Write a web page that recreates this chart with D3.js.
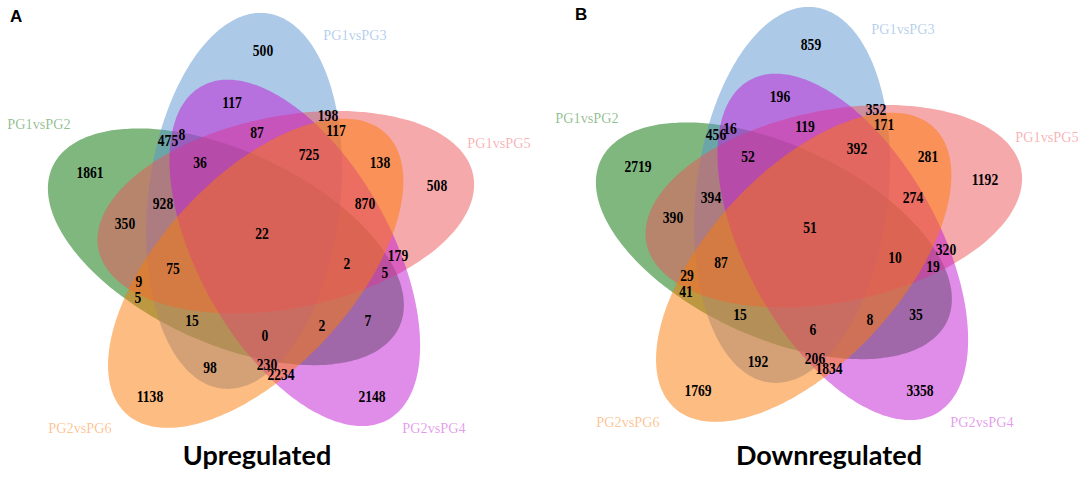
<!DOCTYPE html>
<html><head><meta charset="utf-8">
<script src="https://cdn.jsdelivr.net/npm/d3@7"></script>
<style>html,body{margin:0;padding:0;background:#fff}svg{display:block}</style>
</head><body>
<svg id="chart" width="1084" height="487"></svg>
<script>
// ---------- data ----------
const setNames = ["PG1vsPG2","PG1vsPG3","PG1vsPG5","PG2vsPG4","PG2vsPG6"];
const setKeys = ["G","B","P","M","O"];
const panelLetters = ["A","B"];
const panelTitles = ["Upregulated","Downregulated"];
const regionKeys = ["G","B","P","M","O","GB","GP","GO","GM","BM","BP","BO","PM","PO","MO",
  "GBM","GBP","GBO","GPM","GPO","GMO","BMP","BMO","BPO","PMO","GBMP","GBPO","GBMO","GPMO","BMPO","GBMPO"];
const upregulated = [1861,500,508,2148,1138,475,350,5,7,117,198,98,179,138,2234,
  8,928,15,5,9,2,87,230,117,870,36,75,0,2,725,22];
const downregulated = [2719,859,1192,3358,1769,456,390,41,35,196,352,192,320,281,1834,
  16,394,15,19,29,8,119,206,171,274,52,87,6,10,392,51];

// ---------- layout / style (diagram units = panel-A pixels) ----------
const setColors = ["#007000","#5a93d2","#ee5458","#c21ad4","#fc7a05"];
const ellCx = [225.9, 244.1, 285.8, 294.8, 255.7];
const ellCy = [246.8, 200.9, 212.2, 252.9, 273.3];
const ellA  = [191, 189, 191, 191, 191];
const ellB  = [96, 96, 96, 96, 96];
const ellRot = [204.8, -83.2, -11.2, 60.8, 132.8];
const labelPos = [[90,172],[263,50],[437,185],[372,396],[150,396],[168,140],[125,223],[138,297],
  [368,320],[232,102],[328,115],[210,367],[398,255],[380,162],[281,374],[182,134],[163,203],
  [192,320],[385,272],[139,281],[322,325],[257,132],[267,364],[336,130],[365,203],[200,162],
  [173,268],[265,335],[347,263],[309,154],[262,233]];
const setLabelPos = [[39,124],[355,35],[499,143],[434,428],[80,428]];
const panelOffset = [[0,0],[548,-6]];
const letterPos = [[10,16],[575,14]];
const titlePos = [[257,456],[829,456]];
const values = [upregulated, downregulated];

const svg = d3.select("#chart");
const rad = Math.PI/180;

function ellipsePoints(i){
  const th = ellRot[i]*rad;
  return d3.range(0, 360, 2).map(t => {
    const c = Math.cos(t*rad), s = Math.sin(t*rad);
    return [ellCx[i] + ellA[i]*c*Math.cos(th) - ellB[i]*s*Math.sin(th),
            ellCy[i] + ellA[i]*c*Math.sin(th) + ellB[i]*s*Math.cos(th)];
  });
}

panelLetters.forEach((letter, p) => {
  const [ox, oy] = panelOffset[p];
  const sx = d3.scaleLinear().domain([0,540]).range([ox, ox+540]);
  const sy = d3.scaleLinear().domain([0,487]).range([oy, oy+487]);
  const g = svg.append("g");
  const line = d3.line().x(d => sx(d[0])).y(d => sy(d[1])).curve(d3.curveCardinalClosed);
  setKeys.forEach((k, i) => {
    g.append("path").attr("d", line(ellipsePoints(i)))
      .attr("fill", setColors[i]).attr("fill-opacity", 0.5).attr("stroke", "none");
  });
  setNames.forEach((name, i) => {
    g.append("text").attr("transform", `translate(${sx(setLabelPos[i][0])},${sy(setLabelPos[i][1])}) scale(0.95,1)`)
      .attr("text-anchor","middle").attr("dy","0.35em")
      .attr("font-family","'Liberation Serif','Times New Roman',serif").attr("font-size",15)
      .attr("fill", setColors[i]).attr("fill-opacity",0.45).text(name);
  });
  values[p].forEach((v, r) => {
    g.append("text").attr("transform", `translate(${sx(labelPos[r][0])},${sy(labelPos[r][1])}) scale(0.85,1)`)
      .attr("text-anchor","middle").attr("dy","0.36em")
      .attr("font-family","'Liberation Serif','Times New Roman',serif").attr("font-weight","bold")
      .attr("font-size",16).attr("fill","#000").text(v);
  });
  svg.append("text").attr("x", letterPos[p][0]).attr("y", letterPos[p][1]).attr("dy","0.35em")
    .attr("font-family","'Liberation Sans',Arial,sans-serif").attr("font-weight","bold")
    .attr("font-size",17).text(letter);
  svg.append("text").attr("x", titlePos[p][0]).attr("y", titlePos[p][1]).attr("dy","0.35em")
    .attr("text-anchor","middle").attr("font-family","Lato,'Open Sans',sans-serif").attr("font-weight","bold")
    .attr("font-size",27).text(panelTitles[p]);
});
</script>
</body></html>
